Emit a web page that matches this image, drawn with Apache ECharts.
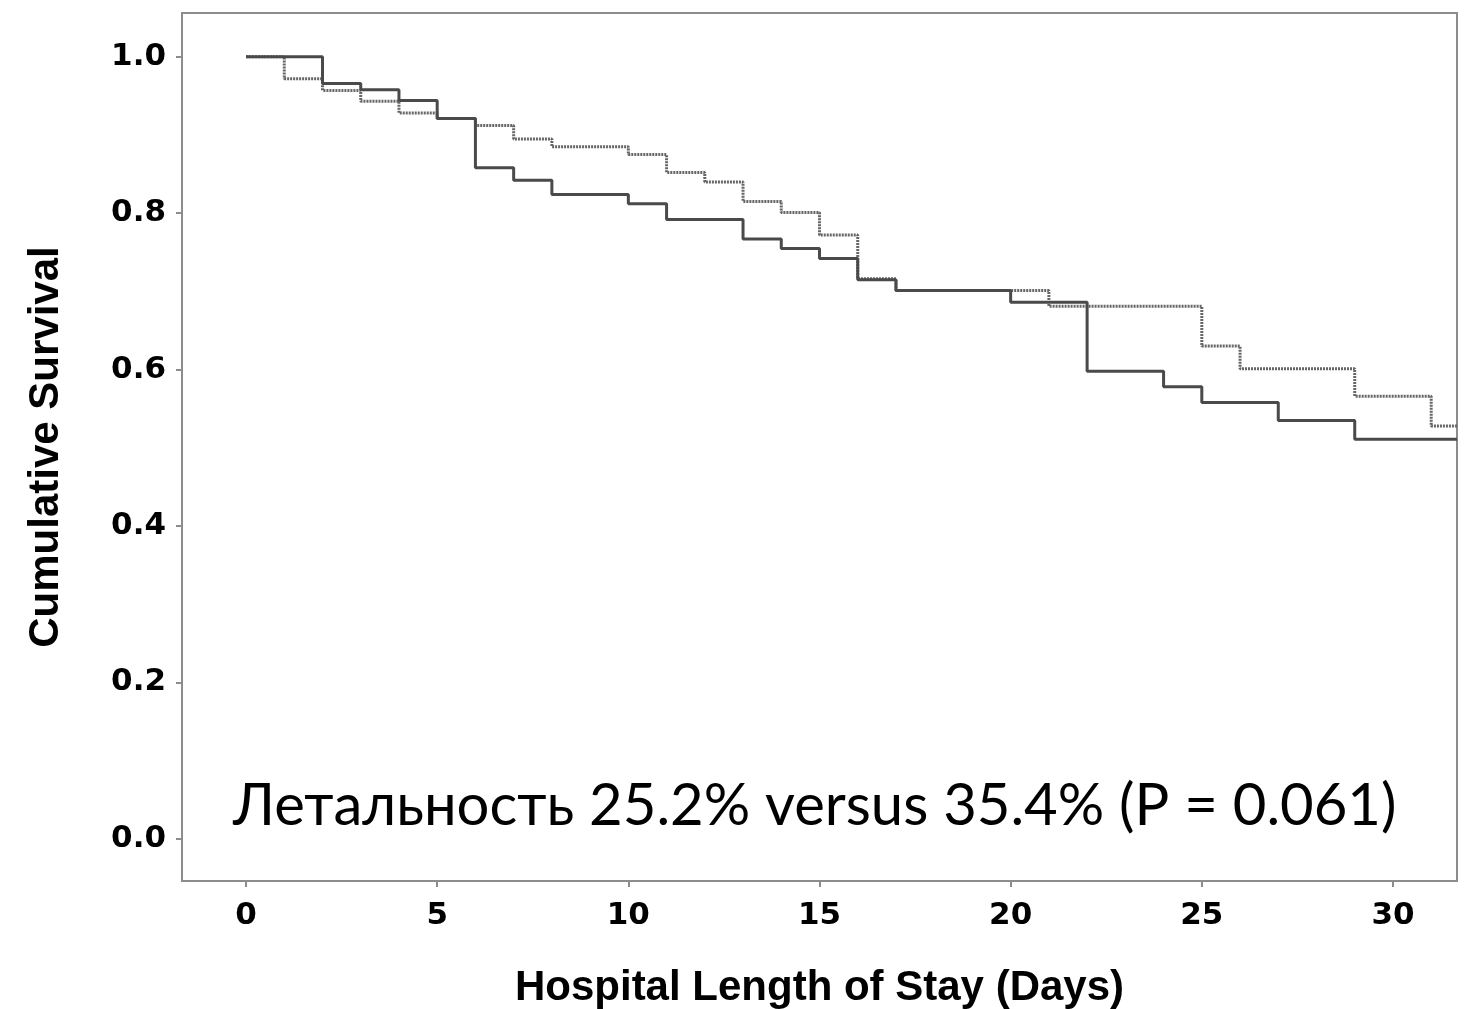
<!DOCTYPE html>
<html>
<head>
<meta charset="utf-8">
<title>Cumulative Survival</title>
<script src="https://cdn.jsdelivr.net/npm/echarts@6/dist/echarts.min.js"></script>
<style>
  html, body { margin: 0; padding: 0; background: #fff; }
  #survivalChart { width: 1466px; height: 1009px; }
</style>
</head>
<body>
<div id="survivalChart"></div>
<script>
// Kaplan-Meier steps
var daysSolid = [0, 2, 3, 4, 5, 6, 7, 8, 10, 11, 13, 14, 15, 16, 17, 20, 22, 24, 25, 27, 29];
var survSolid = [1.0, 0.966, 0.958, 0.944, 0.921, 0.858, 0.842, 0.824, 0.812, 0.792, 0.767, 0.755, 0.742, 0.715, 0.701, 0.686, 0.598, 0.578, 0.558, 0.535, 0.511];

var daysDotted = [0, 1, 2, 3, 4, 5, 6, 7, 8, 10, 11, 12, 13, 14, 15, 16, 17, 21, 25, 26, 29, 31];
var survDotted = [1.0, 0.972, 0.957, 0.943, 0.928, 0.921, 0.912, 0.895, 0.885, 0.875, 0.852, 0.840, 0.815, 0.801, 0.772, 0.716, 0.701, 0.681, 0.630, 0.601, 0.566, 0.528];

var xTicks = [0, 5, 10, 15, 20, 25, 30];
var yTicks = [0, 0.2, 0.4, 0.6, 0.8, 1.0];
var note = 'Летальность 25.2% versus 35.4% (P = 0.061)';

var xMin = -1.675, xMax = 31.675;
var yMin = -0.054, yMax = 1.056;

function toSteps(days, surv) {
    var pts = [];
    for (var i = 0; i < days.length; i++) {
        pts.push([days[i], surv[i]]);
    }
    pts.push([xMax, surv[surv.length - 1]]);   // run on to the frame
    return pts;
}

var chart = echarts.init(document.getElementById('survivalChart'));

var option = {
    animation: false,
    backgroundColor: '#fff',
    grid: {
        left: 182,
        top: 13,
        right: 9,
        bottom: 128,
        show: true,
        borderColor: '#8c8c8c',
        borderWidth: 2,
        containLabel: false,
        outerBoundsMode: 'none'
    },
    xAxis: {
        type: 'value',
        min: xMin,
        max: xMax,
        name: 'Hospital Length of Stay (Days)',
        nameLocation: 'middle',
        nameGap: 86,
        nameTextStyle: {
            fontFamily: 'Liberation Sans',
            fontWeight: 'bold',
            fontSize: 42,
            color: '#000'
        },
        axisLine: { show: true, onZero: false, lineStyle: { color: '#8c8c8c', width: 2 } },
        axisTick: { show: true, customValues: xTicks, length: 6, lineStyle: { color: '#8c8c8c', width: 2 } },
        axisLabel: {
            customValues: xTicks,
            margin: 19,
            fontFamily: 'DejaVu Sans',
            fontWeight: 'bold',
            fontSize: 31,
            color: '#000'
        },
        splitLine: { show: false }
    },
    yAxis: {
        type: 'value',
        min: yMin,
        max: yMax,
        name: 'Cumulative Survival',
        nameLocation: 'middle',
        nameRotate: 90,
        nameGap: 115,
        nameTextStyle: {
            fontFamily: 'Liberation Sans',
            fontWeight: 'bold',
            fontSize: 42,
            color: '#000'
        },
        axisLine: { show: true, onZero: false, lineStyle: { color: '#8c8c8c', width: 2 } },
        axisTick: { show: true, customValues: yTicks, length: 6, lineStyle: { color: '#8c8c8c', width: 2 } },
        axisLabel: {
            customValues: yTicks,
            margin: 16,
            fontFamily: 'DejaVu Sans',
            fontWeight: 'bold',
            fontSize: 31,
            color: '#000',
            formatter: function (v) { return v.toFixed(1); }
        },
        splitLine: { show: false }
    },
    graphic: [{
        type: 'text',
        left: 233,
        top: 777,
        style: {
            text: note,
            fontFamily: 'Lato',
            fontSize: 58,
            fill: '#000'
        },
        z: 100
    }],
    series: [
        {
            name: 'dotted',
            type: 'line',
            step: 'end',
            symbol: 'none',
            data: toSteps(daysDotted, survDotted),
            lineStyle: { color: '#666', width: 3, type: [2, 1] },
            z: 2
        },
        {
            name: 'solid',
            type: 'line',
            step: 'end',
            symbol: 'none',
            data: toSteps(daysSolid, survSolid),
            lineStyle: { color: '#4a4a4a', width: 3 },
            z: 3
        }
    ]
};

chart.setOption(option);
</script>
</body>
</html>
